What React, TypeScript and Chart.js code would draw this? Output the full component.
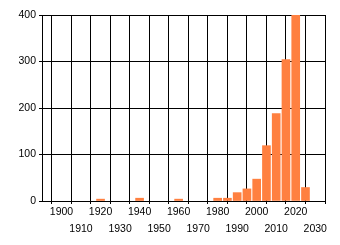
import React, { useEffect, useRef } from "react";
import { Chart, registerables } from "chart.js";

Chart.register(...registerables);

const years = [1920, 1940, 1960, 1980, 1985, 1990, 1995, 2000, 2005, 2010, 2015, 2020, 2025];
const counts = [4, 6, 4, 6, 6, 18, 26, 47, 119, 188, 304, 400, 29];
const xTicks = [1890, 1900, 1910, 1920, 1930, 1940, 1950, 1960, 1970, 1980, 1990, 2000, 2010, 2020, 2030];
const yTicks = [0, 100, 200, 300, 400];

export default function App() {
  const ref = useRef<HTMLCanvasElement>(null);
  useEffect(() => {
    if (!ref.current) return;
    const font = { family: "'Liberation Sans', Arial, sans-serif", size: 10.5, lineHeight: 1.6 };
    const chart = new Chart(ref.current, {
      type: "bar",
      data: {
        datasets: [
          {
            data: years.map((y, i) => ({ x: y, y: counts[i] })),
            backgroundColor: "#ff8040",
            barThickness: 8,
          },
        ],
      },
      options: {
        animation: false,
        responsive: false,
        layout: { padding: { top: 15, right: 15, left: 0, bottom: 0 } },
        plugins: { legend: { display: false }, tooltip: { enabled: false } },
        scales: {
          x: {
            type: "linear",
            min: 1890,
            max: 2035,
            offset: false,
            afterBuildTicks: (s: any) => {
              s.ticks = xTicks.map((v) => ({ value: v }));
            },
            afterFit: (s: any) => {
              s.height = 44;
            },
            grid: { color: "#000", lineWidth: 1, tickLength: 3 },
            border: { color: "#000" },
            ticks: {
              autoSkip: false,
              maxRotation: 0,
              minRotation: 0,
              padding: 0,
              color: "#000",
              font,
              callback: (v: any) => {
                const n = Number(v);
                if (n < 1900) return "";
                return ((n - 1900) / 10) % 2 === 0 ? [String(n), ""] : ["", String(n)];
              },
            },
          },
          y: {
            min: 0,
            max: 400,
            afterBuildTicks: (s: any) => {
              s.ticks = yTicks.map((v) => ({ value: v }));
            },
            afterFit: (s: any) => {
              s.width = 42;
            },
            grid: { color: "#000", lineWidth: 1, tickLength: 3 },
            border: { color: "#000" },
            ticks: { padding: 3, color: "#000", font: { family: font.family, size: 10.5 } },
          },
        },
      },
    });
    return () => chart.destroy();
  }, []);
  return (
    <div style={{ position: "absolute", left: 0, top: 0, width: 340, height: 245, background: "#fff" }}>
      <canvas ref={ref} width={340} height={245} style={{ display: "block" }} />
    </div>
  );
}
